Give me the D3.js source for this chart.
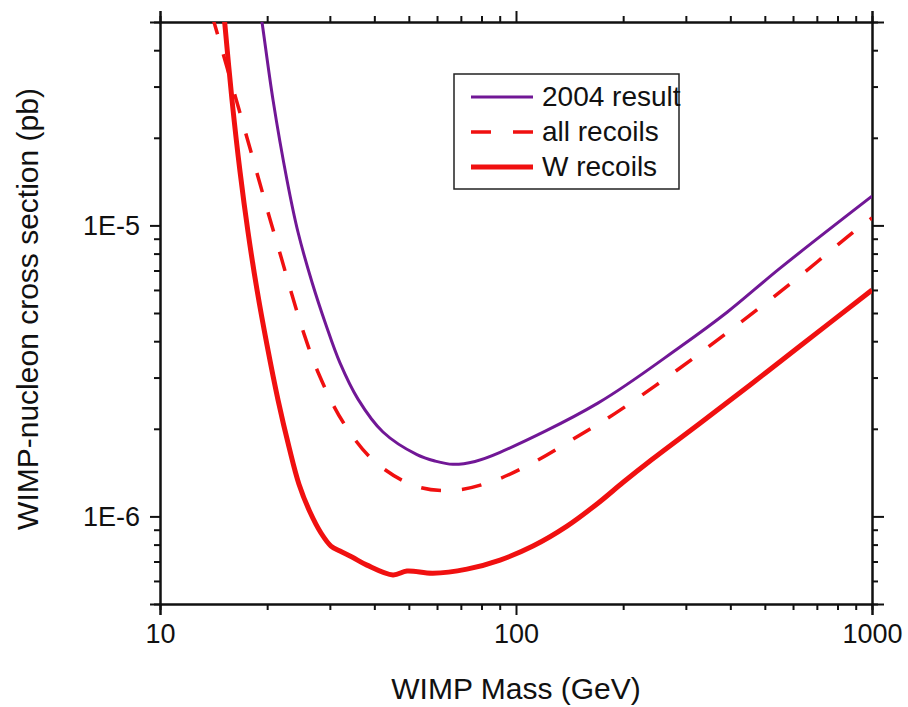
<!DOCTYPE html>
<html>
<head>
<meta charset="utf-8">
<script src="https://cdn.jsdelivr.net/npm/d3@7"></script>
<style>
  body { margin: 0; background: #fff; }
  text { font-family: "Liberation Sans", Arial, sans-serif; fill: #111; }
</style>
</head>
<body>
<script>
// WIMP mass (GeV) and cross section (pb)
var result2004Mass = [19.1, 19.34, 20.77, 22.74, 24.41, 26.73, 29.26, 32.03, 35.99, 42.3, 52.7, 59.2, 66.5, 76.7, 90.2, 169.8, 288.8, 391.7, 552, 1000];
var result2004Sigma = [5.5e-5, 5.0e-5, 2.70e-5, 1.43e-5, 9.49e-6, 6.38e-6, 4.55e-6, 3.37e-6, 2.53e-6, 1.95e-6, 1.63e-6, 1.55e-6, 1.51e-6, 1.545e-6, 1.66e-6, 2.45e-6, 3.82e-6, 5.03e-6, 7.13e-6, 1.26e-5];

var allMass = [14.0, 16.35, 18.97, 20.37, 21.88, 23.49, 25.38, 27.79, 32.66, 40.18, 52.37, 67.42, 87.3, 113.8, 146.4, 189.9, 281.3, 414.5, 612.4, 895.3, 1000];
var allSigma = [5.28e-5, 2.72e-5, 1.43e-5, 1.05e-5, 7.79e-6, 5.76e-6, 4.24e-6, 3.13e-6, 2.11e-6, 1.54e-6, 1.27e-6, 1.23e-6, 1.33e-6, 1.55e-6, 1.86e-6, 2.26e-6, 3.16e-6, 4.51e-6, 6.54e-6, 9.58e-6, 1.06e-5];

var wMass = [15.13, 15.93, 16.78, 17.67, 18.73, 19.98, 21.46, 23.04, 24.57, 26.38, 28.33, 30.22, 32.03, 34.62, 38.14, 45.13, 49.4, 58.4, 72.8, 90.2, 111.6, 139.1, 169.9, 200, 237.9, 328.8, 454.4, 627.9, 1000];
var wSigma = [5.28e-5, 2.70e-5, 1.53e-5, 9.49e-6, 6.00e-6, 3.88e-6, 2.51e-6, 1.73e-6, 1.29e-6, 1.035e-6, 8.77e-7, 7.91e-7, 7.60e-7, 7.25e-7, 6.80e-7, 6.29e-7, 6.49e-7, 6.38e-7, 6.59e-7, 7.08e-7, 7.91e-7, 9.26e-7, 1.11e-6, 1.31e-6, 1.55e-6, 2.09e-6, 2.83e-6, 3.85e-6, 6.00e-6];

var legendLabels = ["2004 result", "all recoils", "W recoils"];
var xMajor = [10, 100, 1000];
var yMajor = [1e-6, 1e-5];

var margin = {top: 22, right: 36, bottom: 103, left: 160};
var width = 908 - margin.left - margin.right;
var height = 707 - margin.top - margin.bottom;

var svg = d3.select("body")
  .append("svg")
    .attr("width", 908)
    .attr("height", 707)
  .append("g")
    .attr("transform", "translate(" + margin.left + "," + margin.top + ")");

var x = d3.scaleLog().domain([10, 1000]).range([0, width]);
var y = d3.scaleLog().domain([5e-7, 5e-5]).range([height, 0]);

// minor ticks: 2..9 within each decade
var xMinor = [];
[10, 100].forEach(function(d) { for (var i = 2; i <= 9; i++) xMinor.push(d * i); });
var yMinor = [];
[1e-7, 1e-6, 1e-5].forEach(function(d) {
  for (var i = 2; i <= 9; i++) {
    var v = d * i;
    if (v > 5.01e-7 && v < 4.99e-5) yMinor.push(v);
  }
});

function styleAxis(g) {
  g.select(".domain").attr("stroke", "#111").attr("stroke-width", 2);
  g.selectAll(".tick line").attr("stroke", "#111").attr("stroke-width", 2);
  g.selectAll(".tick text").style("font-size", "27px").attr("fill", "#111");
}

svg.append("g").attr("transform", "translate(0," + height + ")")
  .call(d3.axisBottom(x).tickValues(xMinor).tickSize(6).tickFormat(""))
  .call(styleAxis);
svg.append("g").attr("transform", "translate(0," + height + ")")
  .call(d3.axisBottom(x).tickValues(xMajor).tickSize(11).tickPadding(9).tickFormat(d3.format("d")))
  .call(styleAxis);
svg.append("g")
  .call(d3.axisTop(x).tickValues(xMinor).tickSize(6).tickFormat(""))
  .call(styleAxis);
svg.append("g")
  .call(d3.axisTop(x).tickValues(xMajor).tickSize(11).tickFormat(""))
  .call(styleAxis);

svg.append("g")
  .call(d3.axisLeft(y).tickValues(yMinor).tickSize(6).tickFormat(""))
  .call(styleAxis);
svg.append("g")
  .call(d3.axisLeft(y).tickValues(yMajor).tickSize(10).tickPadding(10)
    .tickFormat(function(d) { return "1E" + Math.round(Math.log10(d)); }))
  .call(styleAxis);
svg.append("g").attr("transform", "translate(" + width + ",0)")
  .call(d3.axisRight(y).tickValues(yMinor).tickSize(6).tickFormat(""))
  .call(styleAxis);
svg.append("g").attr("transform", "translate(" + width + ",0)")
  .call(d3.axisRight(y).tickValues(yMajor).tickSize(12).tickFormat(""))
  .call(styleAxis);

// axis titles
svg.append("text")
  .attr("x", width / 2)
  .attr("y", height + 95)
  .attr("text-anchor", "middle")
  .style("font-size", "30px")
  .text("WIMP Mass (GeV)");

svg.append("text")
  .attr("transform", "translate(" + (38 - margin.left) + "," + (309 - margin.top) + ") rotate(-90)")
  .attr("text-anchor", "middle")
  .style("font-size", "30px")
  .text("WIMP-nucleon cross section (pb)");

svg.append("clipPath").attr("id", "plot-clip")
  .append("rect").attr("width", width).attr("height", height);

var line = d3.line()
  .x(function(d) { return x(d[0]); })
  .y(function(d) { return y(d[1]); })
  .curve(d3.curveCatmullRom.alpha(0.5));

var series = [
  {mass: result2004Mass, sigma: result2004Sigma, color: "#711796", width: 3, dash: null},
  {mass: allMass, sigma: allSigma, color: "#f01010", width: 3.5, dash: "20,21"},
  {mass: wMass, sigma: wSigma, color: "#f01010", width: 5, dash: null}
];

var plot = svg.append("g").attr("clip-path", "url(#plot-clip)");
series.forEach(function(s) {
  plot.append("path")
    .datum(d3.zip(s.mass, s.sigma))
    .attr("fill", "none")
    .attr("stroke", s.color)
    .attr("stroke-width", s.width)
    .attr("stroke-dasharray", s.dash)
    .attr("d", line);
});

// legend
var legend = svg.append("g").attr("transform", "translate(" + (454 - margin.left) + "," + (74 - margin.top) + ")");
legend.append("rect")
  .attr("width", 225).attr("height", 115)
  .attr("fill", "#fff").attr("stroke", "#222").attr("stroke-width", 1.5);

series.forEach(function(s, i) {
  var row = legend.append("g").attr("transform", "translate(0," + (23 + i * 35) + ")");
  row.append("line")
    .attr("x1", 17).attr("x2", 79)
    .attr("stroke", s.color)
    .attr("stroke-width", s.width)
    .attr("stroke-dasharray", s.dash ? "20,22" : null);
  row.append("text")
    .attr("x", 88).attr("y", 9)
    .style("font-size", "28px")
    .text(legendLabels[i]);
});
</script>
</body>
</html>
